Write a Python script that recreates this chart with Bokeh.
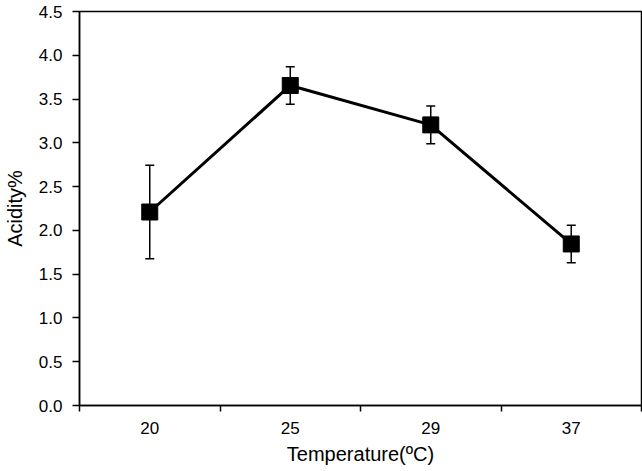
from bokeh.plotting import figure
from bokeh.models import (ColumnDataSource, Whisker, TeeHead, FixedTicker,
                          NumeralTickFormatter, Range1d)
from bokeh.embed import file_html
from bokeh.resources import INLINE

temps = ["20", "25", "29", "37"]
acidity = [2.21, 3.655, 3.205, 1.845]
errors = [0.535, 0.215, 0.215, 0.215]
y_ticks = [0.0, 0.5, 1.0, 1.5, 2.0, 2.5, 3.0, 3.5, 4.0, 4.5]

xpos = [i + 0.5 for i in range(len(temps))]
src = ColumnDataSource(dict(
    x=xpos, y=acidity,
    lower=[a - e for a, e in zip(acidity, errors)],
    upper=[a + e for a, e in zip(acidity, errors)],
))

FONT = "Liberation Sans"

p = figure(width=642, height=471, output_backend="svg", toolbar_location=None,
           x_range=Range1d(0, len(temps)), y_range=Range1d(y_ticks[0], y_ticks[-1]),
           min_border_left=79, min_border_right=1, min_border_top=11,
           min_border_bottom=66)

p.xgrid.visible = False
p.ygrid.visible = False
p.outline_line_color = "black"
p.outline_line_width = 1.5
p.background_fill_color = "white"
p.border_fill_color = "white"

# error bars
wh = Whisker(source=src, base="x", lower="lower", upper="upper",
             line_color="black", line_width=1.5,
             upper_head=TeeHead(size=9, line_color="black", line_width=1.5),
             lower_head=TeeHead(size=9, line_color="black", line_width=1.5))
p.add_layout(wh)

p.line("x", "y", source=src, line_color="black", line_width=3)
p.scatter("x", "y", source=src, marker="square", size=16,
          fill_color="black", line_color="black")

# x axis
xa = p.xaxis[0]
xa.ticker = FixedTicker(ticks=xpos, minor_ticks=list(range(len(temps) + 1)))
xa.major_label_overrides = {x: t for x, t in zip(xpos, temps)}
xa.major_tick_line_color = None
xa.major_tick_out = 6
xa.major_tick_in = 0
xa.minor_tick_line_color = "black"
xa.minor_tick_line_width = 1.5
xa.minor_tick_out = 6
xa.minor_tick_in = 0
xa.axis_line_width = 1.5
xa.major_label_standoff = 10
xa.major_label_text_font = FONT
xa.major_label_text_font_size = "17px"
xa.major_label_text_color = "black"
xa.axis_label = "Temperature(ºC)"
xa.axis_label_text_font = FONT
xa.axis_label_text_font_size = "20px"
xa.axis_label_text_font_style = "normal"
xa.axis_label_text_color = "black"
xa.axis_label_standoff = 6

# y axis
ya = p.yaxis[0]
ya.ticker = FixedTicker(ticks=y_ticks)
ya.formatter = NumeralTickFormatter(format="0.0")
ya.major_tick_out = 7
ya.major_tick_in = 0
ya.major_tick_line_width = 1.5
ya.minor_tick_line_color = None
ya.axis_line_width = 1.5
ya.major_label_standoff = 10
ya.major_label_text_font = FONT
ya.major_label_text_font_size = "17px"
ya.major_label_text_color = "black"
ya.axis_label = "Acidity%"
ya.axis_label_text_font = FONT
ya.axis_label_text_font_size = "20px"
ya.axis_label_text_font_style = "normal"
ya.axis_label_text_color = "black"
ya.axis_label_standoff = 10

open("out.html", "w").write(file_html(p, INLINE))
